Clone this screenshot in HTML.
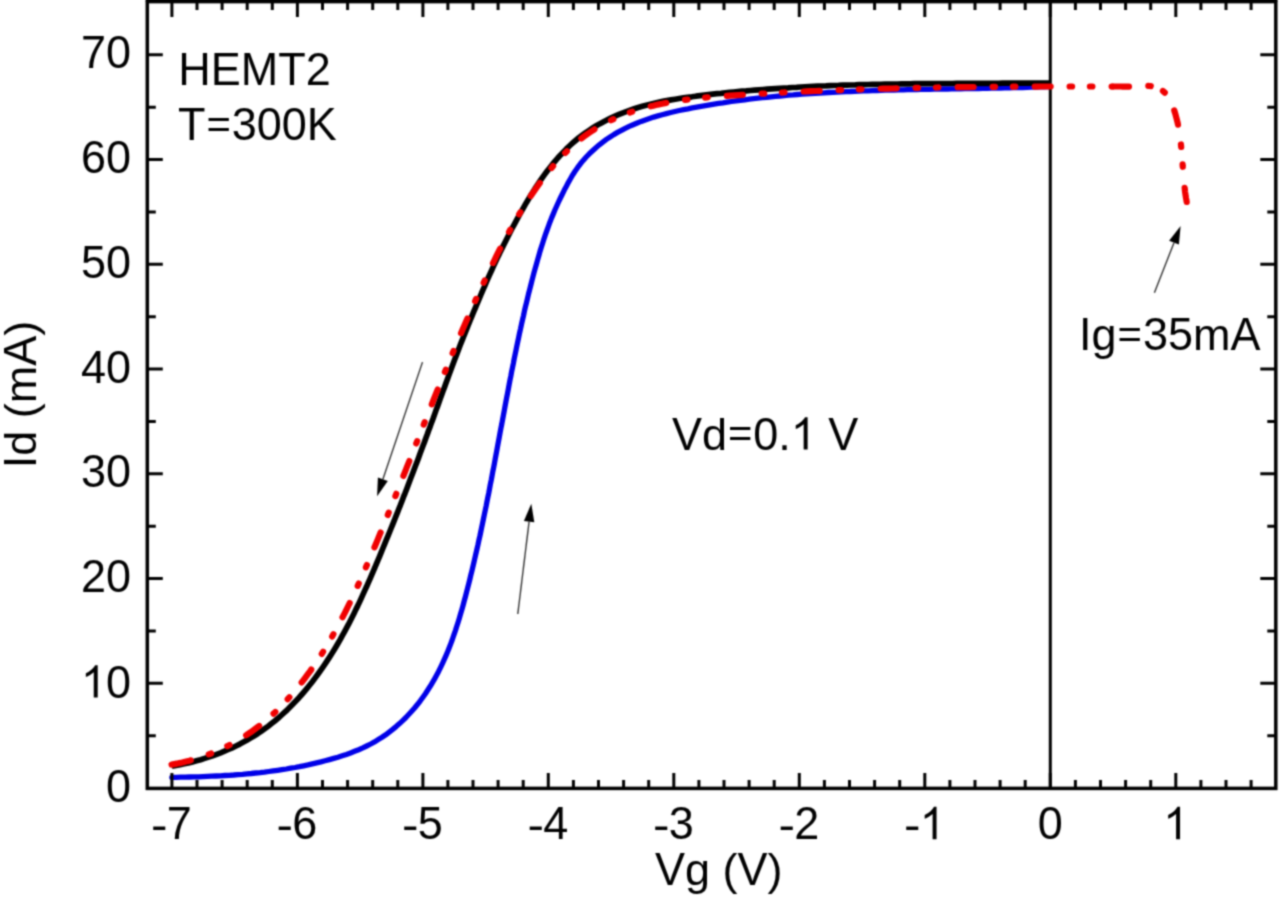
<!DOCTYPE html>
<html><head><meta charset="utf-8"><style>html,body{margin:0;padding:0;background:#fff;width:1280px;height:898px;overflow:hidden}svg{display:block;position:absolute;left:-20px;top:-20px}</style></head>
<body><svg width="1320" height="938" viewBox="-20 -20 1320 938">
<defs><filter id="bl" x="-20" y="-20" width="1320" height="938" filterUnits="userSpaceOnUse" color-interpolation-filters="sRGB"><feConvolveMatrix order="5" kernelMatrix="0.00023 0.00332 0.00809 0.00332 0.00023 0.00332 0.04785 0.11640 0.04785 0.00332 0.00809 0.11640 0.28313 0.11640 0.00809 0.00332 0.04785 0.11640 0.04785 0.00332 0.00023 0.00332 0.00809 0.00332 0.00023" divisor="1" edgeMode="duplicate" preserveAlpha="true"/></filter></defs>
<g filter="url(#bl)">
<rect x="-20" y="-20" width="1320" height="938" fill="#fff"/>
<line x1="1050.3" y1="1.6" x2="1050.3" y2="788.4" stroke="#000" stroke-width="3"/>
<g fill="none" stroke-linejoin="round">
<path d="M171.9,777.4 L176.3,777.3 L180.7,777.2 L185.1,777.1 L189.6,777.0 L194.0,776.9 L198.4,776.8 L202.8,776.6 L207.2,776.4 L211.7,776.2 L216.1,776.0 L220.5,775.8 L224.9,775.5 L229.3,775.3 L233.7,775.0 L238.1,774.6 L242.5,774.3 L246.9,773.9 L251.3,773.5 L255.7,773.0 L260.1,772.6 L264.5,772.1 L268.8,771.5 L273.2,770.9 L277.6,770.3 L281.9,769.7 L286.3,769.0 L290.6,768.2 L295.0,767.5 L299.3,766.7 L303.6,765.8 L308.0,764.9 L312.3,763.9 L316.6,762.9 L320.9,761.9 L325.1,760.8 L329.4,759.6 L333.7,758.4 L337.9,757.2 L342.2,755.8 L346.4,754.4 L350.5,752.9 L354.6,751.3 L358.7,749.7 L362.8,747.9 L366.7,746.0 L370.7,744.0 L374.5,741.9 L378.3,739.6 L382.0,737.3 L385.7,734.8 L389.2,732.1 L392.7,729.4 L396.1,726.6 L399.5,723.6 L402.7,720.6 L405.9,717.5 L408.9,714.3 L411.9,711.0 L414.8,707.7 L417.6,704.3 L420.3,700.8 L422.9,697.2 L425.4,693.7 L427.8,690.0 L430.2,686.3 L432.4,682.6 L434.6,678.8 L436.7,675.0 L438.7,671.2 L440.6,667.3 L442.5,663.3 L444.3,659.3 L446.1,655.3 L447.8,651.3 L449.4,647.2 L451.0,643.1 L452.5,639.0 L453.9,634.8 L455.4,630.6 L456.7,626.5 L458.1,622.2 L459.4,618.0 L460.6,613.8 L461.9,609.5 L463.1,605.2 L464.2,601.0 L465.4,596.7 L466.5,592.4 L467.6,588.1 L468.7,583.8 L469.8,579.5 L470.8,575.2 L471.9,570.9 L472.9,566.6 L473.9,562.3 L474.9,558.0 L475.9,553.7 L476.9,549.3 L477.9,545.0 L478.8,540.7 L479.8,536.4 L480.7,532.1 L481.6,527.8 L482.5,523.5 L483.4,519.1 L484.3,514.8 L485.2,510.5 L486.1,506.2 L486.9,501.9 L487.8,497.5 L488.7,493.2 L489.5,488.9 L490.3,484.5 L491.2,480.2 L492.0,475.9 L492.8,471.6 L493.7,467.2 L494.5,462.9 L495.3,458.6 L496.1,454.2 L496.9,449.9 L497.7,445.6 L498.5,441.2 L499.3,436.9 L500.1,432.6 L500.9,428.2 L501.8,423.9 L502.6,419.5 L503.4,415.2 L504.2,410.9 L505.0,406.5 L505.8,402.2 L506.6,397.9 L507.5,393.5 L508.3,389.2 L509.1,384.8 L509.9,380.5 L510.8,376.2 L511.6,371.8 L512.5,367.5 L513.4,363.2 L514.2,358.8 L515.1,354.5 L516.0,350.2 L516.9,345.8 L517.8,341.5 L518.7,337.2 L519.6,332.8 L520.6,328.5 L521.5,324.2 L522.5,319.9 L523.5,315.6 L524.4,311.2 L525.4,306.9 L526.5,302.6 L527.5,298.3 L528.5,294.0 L529.6,289.8 L530.7,285.5 L531.8,281.2 L532.9,276.9 L534.0,272.7 L535.2,268.4 L536.4,264.2 L537.6,259.9 L538.8,255.7 L540.0,251.4 L541.3,247.2 L542.7,243.0 L544.0,238.8 L545.4,234.7 L546.9,230.5 L548.4,226.4 L549.9,222.2 L551.5,218.1 L553.2,214.1 L554.9,210.0 L556.7,206.0 L558.5,202.0 L560.4,198.0 L562.4,194.0 L564.3,190.1 L566.4,186.2 L568.4,182.3 L570.6,178.5 L572.8,174.7 L575.2,171.0 L577.7,167.4 L580.4,163.8 L583.2,160.4 L586.2,157.0 L589.3,153.8 L592.6,150.7 L595.9,147.7 L599.3,144.8 L602.8,142.1 L606.4,139.4 L610.1,137.0 L613.8,134.6 L617.5,132.4 L621.4,130.3 L625.2,128.3 L629.2,126.4 L633.1,124.7 L637.2,123.0 L641.2,121.4 L645.3,119.9 L649.5,118.5 L653.7,117.1 L657.9,115.9 L662.1,114.7 L666.4,113.6 L670.7,112.5 L675.0,111.5 L679.3,110.5 L683.6,109.6 L688.0,108.8 L692.3,107.9 L696.7,107.1 L701.0,106.3 L705.4,105.6 L709.8,104.8 L714.1,104.1 L718.5,103.4 L722.9,102.8 L727.3,102.1 L731.6,101.5 L736.0,100.9 L740.4,100.3 L744.8,99.8 L749.2,99.2 L753.5,98.7 L757.9,98.2 L762.3,97.7 L766.7,97.3 L771.1,96.8 L775.5,96.4 L779.9,96.0 L784.3,95.6 L788.7,95.2 L793.1,94.9 L797.5,94.5 L801.9,94.2 L806.3,93.9 L810.7,93.6 L815.1,93.3 L819.5,93.0 L823.9,92.8 L828.3,92.5 L832.7,92.3 L837.1,92.1 L841.5,91.8 L845.9,91.6 L850.3,91.5 L854.7,91.3 L859.1,91.1 L863.5,90.9 L867.9,90.8 L872.4,90.6 L876.8,90.5 L881.2,90.4 L885.6,90.2 L890.0,90.1 L894.4,90.0 L898.8,89.9 L903.3,89.8 L907.7,89.7 L912.1,89.6 L916.5,89.5 L920.9,89.4 L925.3,89.3 L929.8,89.3 L934.2,89.2 L938.6,89.1 L943.0,89.0 L947.4,89.0 L951.8,88.9 L956.3,88.8 L960.7,88.8 L965.1,88.7 L969.5,88.6 L973.9,88.5 L978.4,88.5 L982.8,88.4 L987.2,88.3 L991.6,88.2 L996.0,88.1 L1000.4,88.0 L1004.9,87.9 L1009.3,87.8 L1013.7,87.7 L1018.1,87.6 L1022.5,87.5 L1026.9,87.3 L1031.4,87.2 L1035.8,87.1 L1040.2,86.9 L1044.6,86.8 L1049.0,86.6" stroke="#0000e8" stroke-width="5.3" stroke-linecap="round"/>
<path d="M171.9,766.1 L176.0,765.4 L180.1,764.7 L184.2,763.8 L188.3,762.9 L192.4,761.9 L196.5,760.8 L200.6,759.7 L204.6,758.4 L208.6,757.1 L212.6,755.8 L216.6,754.3 L220.6,752.8 L224.5,751.2 L228.3,749.5 L232.2,747.8 L236.0,746.0 L239.8,744.1 L243.5,742.1 L247.2,740.0 L250.8,737.9 L254.4,735.7 L257.9,733.5 L261.4,731.1 L264.8,728.7 L268.2,726.2 L271.5,723.6 L274.8,721.0 L278.0,718.3 L281.1,715.5 L284.2,712.7 L287.3,709.8 L290.3,706.8 L293.2,703.8 L296.1,700.8 L299.0,697.7 L301.8,694.5 L304.5,691.3 L307.2,688.1 L309.9,684.8 L312.5,681.5 L315.0,678.1 L317.5,674.7 L320.0,671.3 L322.4,667.9 L324.8,664.4 L327.1,660.9 L329.4,657.4 L331.7,653.8 L333.9,650.2 L336.0,646.7 L338.2,643.0 L340.3,639.4 L342.3,635.7 L344.3,632.1 L346.3,628.4 L348.3,624.7 L350.2,620.9 L352.1,617.2 L354.0,613.4 L355.8,609.6 L357.7,605.9 L359.5,602.1 L361.2,598.3 L363.0,594.4 L364.7,590.6 L366.5,586.8 L368.2,582.9 L369.9,579.1 L371.6,575.2 L373.2,571.3 L374.9,567.5 L376.5,563.6 L378.2,559.7 L379.8,555.8 L381.4,551.9 L383.0,548.0 L384.6,544.1 L386.2,540.2 L387.8,536.4 L389.4,532.5 L391.0,528.5 L392.6,524.6 L394.2,520.7 L395.7,516.8 L397.3,512.9 L398.8,509.0 L400.4,505.1 L401.9,501.2 L403.4,497.2 L405.0,493.3 L406.5,489.4 L408.0,485.5 L409.5,481.5 L411.0,477.6 L412.5,473.7 L414.0,469.7 L415.5,465.8 L417.0,461.9 L418.5,457.9 L419.9,454.0 L421.4,450.1 L422.9,446.1 L424.4,442.2 L425.8,438.2 L427.3,434.3 L428.7,430.3 L430.2,426.4 L431.6,422.4 L433.1,418.5 L434.5,414.6 L435.9,410.6 L437.4,406.7 L438.8,402.7 L440.2,398.8 L441.7,394.8 L443.1,390.9 L444.6,386.9 L446.0,383.0 L447.5,379.0 L448.9,375.1 L450.4,371.1 L451.8,367.2 L453.3,363.3 L454.8,359.3 L456.3,355.4 L457.8,351.5 L459.3,347.6 L460.8,343.6 L462.4,339.7 L463.9,335.8 L465.5,331.9 L467.1,328.0 L468.6,324.1 L470.2,320.2 L471.8,316.3 L473.4,312.4 L475.1,308.5 L476.7,304.7 L478.3,300.8 L480.0,296.9 L481.6,293.0 L483.3,289.2 L485.0,285.3 L486.6,281.5 L488.3,277.6 L490.0,273.8 L491.8,270.0 L493.5,266.2 L495.3,262.4 L497.0,258.6 L498.8,254.9 L500.6,251.1 L502.5,247.4 L504.3,243.7 L506.2,239.9 L508.1,236.2 L510.0,232.5 L511.9,228.8 L513.9,225.1 L515.9,221.4 L517.9,217.7 L519.9,214.0 L522.0,210.3 L524.1,206.6 L526.2,202.9 L528.4,199.3 L530.6,195.6 L532.9,192.0 L535.1,188.4 L537.5,184.9 L539.8,181.4 L542.2,177.9 L544.7,174.4 L547.2,171.0 L549.8,167.7 L552.4,164.4 L555.1,161.2 L557.8,158.0 L560.6,154.9 L563.5,151.9 L566.4,148.9 L569.4,146.0 L572.5,143.2 L575.6,140.5 L578.8,137.8 L582.1,135.3 L585.5,132.8 L588.9,130.5 L592.4,128.2 L595.9,126.0 L599.5,123.9 L603.2,121.9 L606.9,120.0 L610.7,118.1 L614.5,116.4 L618.4,114.7 L622.3,113.1 L626.2,111.6 L630.2,110.2 L634.2,108.8 L638.2,107.5 L642.3,106.3 L646.3,105.2 L650.4,104.2 L654.5,103.2 L658.6,102.3 L662.7,101.4 L666.9,100.6 L671.0,99.9 L675.2,99.2 L679.3,98.5 L683.5,97.9 L687.6,97.3 L691.8,96.8 L696.0,96.2 L700.2,95.7 L704.4,95.2 L708.5,94.7 L712.7,94.2 L716.9,93.7 L721.1,93.3 L725.3,92.8 L729.5,92.4 L733.6,92.0 L737.8,91.6 L742.0,91.2 L746.2,90.9 L750.4,90.5 L754.6,90.1 L758.8,89.8 L763.0,89.5 L767.2,89.2 L771.4,88.9 L775.5,88.6 L779.7,88.3 L783.9,88.0 L788.1,87.8 L792.3,87.5 L796.5,87.3 L800.7,87.0 L804.9,86.8 L809.1,86.6 L813.3,86.4 L817.5,86.2 L821.7,86.0 L825.9,85.9 L830.1,85.7 L834.3,85.5 L838.5,85.4 L842.7,85.2 L847.0,85.1 L851.2,85.0 L855.4,84.9 L859.6,84.7 L863.8,84.6 L868.0,84.5 L872.2,84.4 L876.4,84.3 L880.6,84.3 L884.8,84.2 L889.0,84.1 L893.2,84.0 L897.4,84.0 L901.7,83.9 L905.9,83.8 L910.1,83.8 L914.3,83.7 L918.5,83.7 L922.7,83.7 L926.9,83.6 L931.1,83.6 L935.3,83.6 L939.5,83.5 L943.8,83.5 L948.0,83.5 L952.2,83.5 L956.4,83.4 L960.6,83.4 L964.8,83.4 L969.0,83.4 L973.2,83.4 L977.4,83.3 L981.7,83.3 L985.9,83.3 L990.1,83.3 L994.3,83.3 L998.5,83.3 L1002.7,83.2 L1006.9,83.2 L1011.1,83.2 L1015.3,83.2 L1019.5,83.2 L1023.8,83.1 L1028.0,83.1 L1032.2,83.1 L1036.4,83.1 L1040.6,83.0 L1044.8,83.0 L1049.0,83.0" stroke="#000" stroke-width="5.7" stroke-linecap="butt"/>
<path d="M171.6,764.6 L176.1,763.8 L180.6,762.9 L185.1,761.8 L189.5,760.7 L193.9,759.4 L198.2,758.1 L202.5,756.6 L206.8,755.1 L211.1,753.5 L215.3,751.8 L219.4,750.0 L223.5,748.0 L227.6,746.0 L231.6,744.0 L235.5,741.8 L239.4,739.5 L243.3,737.1 L247.0,734.7 L250.8,732.2 L254.4,729.5 L258.0,726.8 L261.5,724.1 L265.0,721.2 L268.4,718.3 L271.8,715.2 L275.1,712.2 L278.3,709.0 L281.5,705.8 L284.6,702.6 L287.6,699.2 L290.6,695.9 L293.6,692.4 L296.5,689.0 L299.3,685.5 L302.1,681.9 L304.8,678.3 L307.5,674.7 L310.2,671.1 L312.8,667.4 L315.3,663.7 L317.8,659.9 L320.3,656.2 L322.7,652.4 L325.0,648.5 L327.4,644.7 L329.6,640.8 L331.9,636.9 L334.1,633.0 L336.3,629.1 L338.4,625.1 L340.5,621.1 L342.6,617.1 L344.7,613.1 L346.7,609.1 L348.7,605.0 L350.7,600.9 L352.6,596.9 L354.5,592.8 L356.4,588.7 L358.3,584.6 L360.2,580.4 L362.0,576.3 L363.8,572.1 L365.6,568.0 L367.4,563.8 L369.2,559.7 L371.0,555.5 L372.8,551.3 L374.5,547.2 L376.3,543.0 L378.0,538.8 L379.7,534.6 L381.5,530.4 L383.2,526.3 L384.9,522.1 L386.6,517.9 L388.3,513.7 L390.0,509.5 L391.7,505.3 L393.4,501.1 L395.1,496.9 L396.7,492.7 L398.4,488.5 L400.1,484.3 L401.8,480.1 L403.4,475.9 L405.1,471.7 L406.7,467.5 L408.4,463.3 L410.1,459.1 L411.7,454.9 L413.4,450.7 L415.0,446.5 L416.7,442.3 L418.3,438.2 L420.0,434.0 L421.7,429.8 L423.3,425.6 L425.0,421.4 L426.6,417.2 L428.3,413.0 L430.0,408.8 L431.7,404.6 L433.3,400.4 L435.0,396.2 L436.7,392.0 L438.4,387.9 L440.1,383.7 L441.8,379.5 L443.5,375.3 L445.2,371.2 L446.9,367.0 L448.6,362.8 L450.3,358.7 L452.1,354.5 L453.8,350.3 L455.5,346.2 L457.3,342.0 L459.1,337.9 L460.8,333.7 L462.6,329.6 L464.4,325.4 L466.2,321.3 L468.0,317.2 L469.8,313.0 L471.7,308.9 L473.5,304.8 L475.3,300.7 L477.2,296.6 L479.1,292.5 L481.0,288.4 L482.9,284.3 L484.8,280.2 L486.7,276.1 L488.6,272.0 L490.6,267.9 L492.6,263.8 L494.6,259.8 L496.6,255.7 L498.6,251.7 L500.7,247.7 L502.8,243.7 L504.9,239.7 L507.0,235.7 L509.2,231.7 L511.4,227.7 L513.6,223.8 L515.9,219.9 L518.2,216.0 L520.5,212.1 L522.9,208.2 L525.3,204.4 L527.7,200.6 L530.2,196.8 L532.8,193.0 L535.4,189.2 L538.0,185.5 L540.7,181.8 L543.4,178.2 L546.2,174.6 L549.0,171.0 L551.9,167.5 L554.8,164.0 L557.8,160.6 L560.9,157.3 L564.0,154.0 L567.2,150.9 L570.5,147.8 L573.8,144.7 L577.2,141.8 L580.6,139.0 L584.2,136.3 L587.8,133.7 L591.5,131.2 L595.2,128.8 L599.0,126.5 L602.9,124.4 L606.9,122.3 L610.9,120.3 L614.9,118.4 L619.0,116.7 L623.2,115.0 L627.4,113.4 L631.6,111.9 L635.9,110.5 L640.2,109.2 L644.6,107.9 L648.9,106.8 L653.3,105.7 L657.7,104.6 L662.1,103.7 L666.6,102.8 L671.0,102.0 L675.5,101.3 L679.9,100.6 L684.4,99.9 L688.9,99.4 L693.4,98.8 L697.9,98.3 L702.4,97.9 L706.9,97.4 L711.4,97.0 L716.0,96.7 L720.5,96.3 L725.0,96.0 L729.5,95.7 L734.1,95.4 L738.6,95.1 L743.1,94.8 L747.6,94.5 L752.2,94.2 L756.7,94.0 L761.2,93.7 L765.7,93.5 L770.3,93.2 L774.8,93.0 L779.3,92.7 L783.8,92.5 L788.3,92.3 L792.9,92.0 L797.4,91.8 L801.9,91.6 L806.4,91.4 L810.9,91.2 L815.4,91.0 L820.0,90.8 L824.5,90.6 L829.0,90.5 L833.5,90.3 L838.0,90.1 L842.5,90.0 L847.0,89.8 L851.6,89.6 L856.1,89.5 L860.6,89.3 L865.1,89.2 L869.6,89.1 L874.1,88.9 L878.6,88.8 L883.1,88.7 L887.6,88.6 L892.1,88.5 L896.6,88.3 L901.2,88.2 L905.7,88.1 L910.2,88.0 L914.7,87.9 L919.2,87.8 L923.7,87.8 L928.2,87.7 L932.7,87.6 L937.2,87.5 L941.7,87.4 L946.2,87.4 L950.7,87.3 L955.3,87.2 L959.8,87.2 L964.3,87.1 L968.8,87.1 L973.3,87.0 L977.8,87.0 L982.3,86.9 L986.8,86.9 L991.3,86.8 L995.8,86.8 L1000.4,86.8 L1004.9,86.7 L1009.4,86.7 L1013.9,86.7 L1018.4,86.6 L1022.9,86.6 L1027.4,86.6 L1031.9,86.6 L1036.5,86.6 L1041.0,86.5 L1045.5,86.5 L1050.0,86.5 L1054.5,86.5 L1059.0,86.5 L1063.6,86.5 L1068.1,86.5 L1072.6,86.5 L1077.1,86.5 L1081.7,86.5 L1086.2,86.5 L1090.7,86.5 L1095.2,86.5 L1099.8,86.5 L1104.3,86.5 L1108.8,86.5 L1112.4,86.5" stroke="#f00000" stroke-width="6.2" stroke-dasharray="16 18.95 2.5 17.8 2.5 19.25" stroke-dashoffset="-3.66" stroke-linecap="round"/>
<path d="M171.6,764.6 L175.5,763.9" stroke="#f00000" stroke-width="6.2" stroke-linecap="round"/>
<path d="M1113.0,86.5 L1113.3,86.5 L1117.9,86.5 L1121.0,86.5 L1122.8,86.7 L1124.6,86.7 L1126.5,86.7 L1128.5,86.6 L1130.5,86.5 L1132.6,86.4 L1134.7,86.2 L1136.9,86.1 L1139.0,85.9 L1141.2,85.8 L1143.3,85.8 L1145.5,85.8 L1147.6,85.9 L1149.7,86.0 L1151.7,86.3 L1153.7,86.7 L1155.6,87.2 L1157.4,87.9 L1159.2,88.6 L1160.8,89.5 L1162.4,90.6 L1163.8,91.7 L1165.2,93.0 L1166.4,94.4 L1167.6,96.0 L1168.6,97.6 L1169.6,99.3 L1170.5,101.1 L1171.4,102.9 L1172.2,104.8 L1172.9,106.7 L1173.6,108.6 L1174.3,110.5 L1174.9,112.5 L1175.5,114.4 L1176.0,116.4 L1176.5,118.3 L1177.0,120.3 L1177.5,122.2 L1177.9,124.2 L1178.3,126.2 L1178.7,128.1 L1179.0,130.1 L1179.4,132.1 L1179.7,134.1 L1180.0,136.1 L1180.2,138.1 L1180.5,140.1 L1180.7,142.1 L1180.9,144.1 L1181.1,146.1 L1181.3,148.1 L1181.5,150.1 L1181.7,152.1 L1181.9,154.1 L1182.0,156.1 L1182.2,158.1 L1182.3,160.1 L1182.5,162.1 L1182.6,164.1 L1182.7,166.1 L1182.9,168.1 L1183.0,170.1 L1183.2,172.2 L1183.3,174.2 L1183.5,176.2 L1183.7,178.2 L1183.8,180.2 L1184.0,182.2 L1184.2,184.1 L1184.4,186.1 L1184.7,188.1 L1184.9,190.1 L1185.1,192.1 L1185.4,194.1 L1185.7,196.0 L1186.0,198.0 L1186.4,200.0 L1186.7,201.9" stroke="#f00000" stroke-width="6.2" stroke-dasharray="16 19.35 2.5 13.2 2.5 20.3 14.75 20.05 2.5 17.4 2.5 21.1 100 1000" stroke-linecap="round"/>
</g>
<g stroke="#000" fill="none">
<path d="M171.9,788.4V772.9M171.9,1.6V17.1M197.0,788.4V779.9M197.0,1.6V10.1M222.1,788.4V779.9M222.1,1.6V10.1M247.2,788.4V779.9M247.2,1.6V10.1M272.3,788.4V779.9M272.3,1.6V10.1M297.4,788.4V772.9M297.4,1.6V17.1M322.5,788.4V779.9M322.5,1.6V10.1M347.6,788.4V779.9M347.6,1.6V10.1M372.7,788.4V779.9M372.7,1.6V10.1M397.8,788.4V779.9M397.8,1.6V10.1M422.9,788.4V772.9M422.9,1.6V17.1M447.9,788.4V779.9M447.9,1.6V10.1M473.0,788.4V779.9M473.0,1.6V10.1M498.1,788.4V779.9M498.1,1.6V10.1M523.2,788.4V779.9M523.2,1.6V10.1M548.3,788.4V772.9M548.3,1.6V17.1M573.4,788.4V779.9M573.4,1.6V10.1M598.5,788.4V779.9M598.5,1.6V10.1M623.6,788.4V779.9M623.6,1.6V10.1M648.7,788.4V779.9M648.7,1.6V10.1M673.8,788.4V772.9M673.8,1.6V17.1M698.9,788.4V779.9M698.9,1.6V10.1M724.0,788.4V779.9M724.0,1.6V10.1M749.1,788.4V779.9M749.1,1.6V10.1M774.2,788.4V779.9M774.2,1.6V10.1M799.3,788.4V772.9M799.3,1.6V17.1M824.4,788.4V779.9M824.4,1.6V10.1M849.5,788.4V779.9M849.5,1.6V10.1M874.6,788.4V779.9M874.6,1.6V10.1M899.7,788.4V779.9M899.7,1.6V10.1M924.8,788.4V772.9M924.8,1.6V17.1M949.9,788.4V779.9M949.9,1.6V10.1M975.0,788.4V779.9M975.0,1.6V10.1M1000.1,788.4V779.9M1000.1,1.6V10.1M1025.2,788.4V779.9M1025.2,1.6V10.1M1050.3,788.4V772.9M1050.3,1.6V17.1M1075.4,788.4V779.9M1075.4,1.6V10.1M1100.5,788.4V779.9M1100.5,1.6V10.1M1125.6,788.4V779.9M1125.6,1.6V10.1M1150.7,788.4V779.9M1150.7,1.6V10.1M1175.8,788.4V772.9M1175.8,1.6V17.1M1200.9,788.4V779.9M1200.9,1.6V10.1M1226.0,788.4V779.9M1226.0,1.6V10.1M1251.1,788.4V779.9M1251.1,1.6V10.1M147.3,735.7H155.8M1275.8,735.7H1267.3M147.3,683.3H162.8M1275.8,683.3H1260.3M147.3,631.0H155.8M1275.8,631.0H1267.3M147.3,578.6H162.8M1275.8,578.6H1260.3M147.3,526.2H155.8M1275.8,526.2H1267.3M147.3,473.8H162.8M1275.8,473.8H1260.3M147.3,421.4H155.8M1275.8,421.4H1267.3M147.3,369.1H162.8M1275.8,369.1H1260.3M147.3,316.7H155.8M1275.8,316.7H1267.3M147.3,264.3H162.8M1275.8,264.3H1260.3M147.3,211.9H155.8M1275.8,211.9H1267.3M147.3,159.5H162.8M1275.8,159.5H1260.3M147.3,107.2H155.8M1275.8,107.2H1267.3M147.3,54.8H162.8M1275.8,54.8H1260.3" stroke-width="3"/>
<rect x="147.3" y="1.6" width="1128.5" height="786.8" stroke-width="3.5"/>
<rect x="145.8" y="-6" width="1131.5" height="8" fill="#000" stroke="none"/>
</g>
<line x1="422.5" y1="362.1" x2="382.9" y2="479.2" stroke="#333" stroke-width="1.4"/><polygon points="377.1,496.3 377.9,477.6 387.8,480.9" fill="#000"/>
<line x1="517.8" y1="614" x2="529.1" y2="521.6" stroke="#333" stroke-width="1.4"/><polygon points="531.3,503.7 534.3,522.2 523.9,520.9" fill="#000"/>
<line x1="1154.4" y1="292.7" x2="1174.0" y2="242.7" stroke="#333" stroke-width="1.4"/><polygon points="1180.6,225.9 1178.9,244.6 1169.1,240.7" fill="#000"/>
<g font-family="'Liberation Sans', sans-serif" font-size="45" fill="#000" style="font-kerning:none">
<g transform="translate(171.87,839.20)"><text x="-20.01" y="0" transform="translate(-12.51,0.60) scale(1.1,1.0) translate(12.51,-0.00)">-</text><text x="-5.02" y="0" transform="translate(7.49,0.00) scale(1.0,1.04) translate(-7.49,-0.00)">7</text></g><g transform="translate(297.36,839.20)"><text x="-20.01" y="0" transform="translate(-12.51,0.60) scale(1.1,1.0) translate(12.51,-0.00)">-</text><text x="-5.02" y="0" transform="translate(7.49,0.00) scale(1.0,1.04) translate(-7.49,-0.00)">6</text></g><g transform="translate(422.85,839.20)"><text x="-20.01" y="0" transform="translate(-12.51,0.60) scale(1.1,1.0) translate(12.51,-0.00)">-</text><text x="-5.02" y="0" transform="translate(7.49,0.00) scale(1.0,1.04) translate(-7.49,-0.00)">5</text></g><g transform="translate(548.34,839.20)"><text x="-20.01" y="0" transform="translate(-12.51,0.60) scale(1.1,1.0) translate(12.51,-0.00)">-</text><text x="-5.02" y="0" transform="translate(7.49,0.00) scale(1.0,1.04) translate(-7.49,-0.00)">4</text></g><g transform="translate(673.83,839.20)"><text x="-20.01" y="0" transform="translate(-12.51,0.60) scale(1.1,1.0) translate(12.51,-0.00)">-</text><text x="-5.02" y="0" transform="translate(7.49,0.00) scale(1.0,1.04) translate(-7.49,-0.00)">3</text></g><g transform="translate(799.32,839.20)"><text x="-20.01" y="0" transform="translate(-12.51,0.60) scale(1.1,1.0) translate(12.51,-0.00)">-</text><text x="-5.02" y="0" transform="translate(7.49,0.00) scale(1.0,1.04) translate(-7.49,-0.00)">2</text></g><g transform="translate(924.81,839.20)"><text x="-20.01" y="0" transform="translate(-12.51,0.60) scale(1.1,1.0) translate(12.51,-0.00)">-</text><path d="M11.74,0.00L7.79,0.00L7.79,-25.20Q6.36,-23.84 4.04,-22.48Q1.72,-21.12 -0.12,-20.43L-0.12,-24.26Q3.20,-25.82 5.68,-28.04Q8.16,-30.26 9.20,-32.34L11.74,-32.34Z"/></g><g transform="translate(1050.30,839.20)"><text x="-12.51" y="0" transform="translate(0.00,0.00) scale(1.0,1.04) translate(-0.00,-0.00)">0</text></g><g transform="translate(1175.79,839.20)"><path d="M4.25,0.00L0.30,0.00L0.30,-25.20Q-1.13,-23.84 -3.45,-22.48Q-5.77,-21.12 -7.61,-20.43L-7.61,-24.26Q-4.30,-25.82 -1.81,-28.04Q0.67,-30.26 1.70,-32.34L4.25,-32.34Z"/></g>
<g transform="translate(131.00,801.70)"><text x="-25.03" y="0" transform="translate(-12.51,0.00) scale(1.0,1.04) translate(12.51,-0.00)">0</text></g><g transform="translate(131.00,697.54)"><text x="-25.03" y="0" transform="translate(-12.51,0.00) scale(1.0,1.04) translate(12.51,-0.00)">0</text><path d="M-33.29,0.00L-37.24,0.00L-37.24,-25.20Q-38.67,-23.84 -40.99,-22.48Q-43.31,-21.12 -45.15,-20.43L-45.15,-24.26Q-41.84,-25.82 -39.35,-28.04Q-36.87,-30.26 -35.84,-32.34L-33.29,-32.34Z"/></g><g transform="translate(131.00,592.18)"><text x="-50.05" y="0" transform="translate(-37.54,0.00) scale(1.0,1.04) translate(37.54,-0.00)">2</text><text x="-25.03" y="0" transform="translate(-12.51,0.00) scale(1.0,1.04) translate(12.51,-0.00)">0</text></g><g transform="translate(131.00,487.42)"><text x="-50.05" y="0" transform="translate(-37.54,0.00) scale(1.0,1.04) translate(37.54,-0.00)">3</text><text x="-25.03" y="0" transform="translate(-12.51,0.00) scale(1.0,1.04) translate(12.51,-0.00)">0</text></g><g transform="translate(131.00,382.66)"><text x="-50.05" y="0" transform="translate(-37.54,0.00) scale(1.0,1.04) translate(37.54,-0.00)">4</text><text x="-25.03" y="0" transform="translate(-12.51,0.00) scale(1.0,1.04) translate(12.51,-0.00)">0</text></g><g transform="translate(131.00,277.90)"><text x="-50.05" y="0" transform="translate(-37.54,0.00) scale(1.0,1.04) translate(37.54,-0.00)">5</text><text x="-25.03" y="0" transform="translate(-12.51,0.00) scale(1.0,1.04) translate(12.51,-0.00)">0</text></g><g transform="translate(131.00,173.14)"><text x="-50.05" y="0" transform="translate(-37.54,0.00) scale(1.0,1.04) translate(37.54,-0.00)">6</text><text x="-25.03" y="0" transform="translate(-12.51,0.00) scale(1.0,1.04) translate(12.51,-0.00)">0</text></g><g transform="translate(131.00,68.38)"><text x="-50.05" y="0" transform="translate(-37.54,0.00) scale(1.0,1.04) translate(37.54,-0.00)">7</text><text x="-25.03" y="0" transform="translate(-12.51,0.00) scale(1.0,1.04) translate(12.51,-0.00)">0</text></g>
<g transform="translate(178.20,85.40)"><text x="0.00" y="0" transform="translate(16.25,0.00) scale(1.0,1.04) translate(-16.25,-0.00)">H</text><text x="32.50" y="0" transform="translate(47.50,0.00) scale(1.0,1.04) translate(-47.50,-0.00)">E</text><text x="62.51" y="0" transform="translate(81.25,0.00) scale(1.0,1.04) translate(-81.25,-0.00)">M</text><text x="100.00" y="0" transform="translate(113.74,0.00) scale(1.0,1.04) translate(-113.74,-0.00)">T</text><text x="127.49" y="0" transform="translate(140.00,0.00) scale(1.0,1.04) translate(-140.00,-0.00)">2</text></g>
<g transform="translate(178.00,140.40)"><text x="0.00" y="0" transform="translate(13.74,0.00) scale(1.0,1.04) translate(-13.74,-0.00)">T</text><text x="27.49" y="0" transform="translate(40.63,-15.61) scale(0.93,0.91) translate(-40.63,14.81)">=</text><text x="53.77" y="0" transform="translate(66.28,0.00) scale(1.0,1.04) translate(-66.28,-0.00)">3</text><text x="78.79" y="0" transform="translate(91.31,0.00) scale(1.0,1.04) translate(-91.31,-0.00)">0</text><text x="103.82" y="0" transform="translate(116.33,0.00) scale(1.0,1.04) translate(-116.33,-0.00)">0</text><text x="128.85" y="0" transform="translate(143.85,0.00) scale(1.0,1.04) translate(-143.85,-0.00)">K</text></g>
<g transform="translate(672.00,449.50)"><text x="0.00" y="0" transform="translate(15.01,0.00) scale(1.0,1.04) translate(-15.01,-0.00)">V</text><text x="30.01" y="0" transform="translate(42.53,0.00) scale(1.0,0.985) translate(-42.53,-0.00)">d</text><text x="55.04" y="0" transform="translate(68.18,-15.61) scale(0.93,0.91) translate(-68.18,14.81)">=</text><text x="81.32" y="0" transform="translate(93.83,0.00) scale(1.0,1.04) translate(-93.83,-0.00)">0</text><text x="106.35" y="0">.</text><text x="156.38" y="0" transform="translate(171.39,0.00) scale(1.0,1.04) translate(-171.39,-0.00)">V</text><path d="M135.62,0.00L131.66,0.00L131.66,-25.20Q130.23,-23.84 127.91,-22.48Q125.60,-21.12 123.75,-20.43L123.75,-24.26Q127.07,-25.82 129.55,-28.04Q132.03,-30.26 133.07,-32.34L135.62,-32.34Z"/></g>
<g transform="translate(1079.10,350.10)"><text x="0.00" y="0" transform="translate(6.25,0.00) scale(1.0,1.04) translate(-6.25,-0.00)">I</text><text x="12.50" y="0" transform="translate(25.02,0.00) scale(1.0,0.985) translate(-25.02,-0.00)">g</text><text x="37.53" y="0" transform="translate(50.67,-15.61) scale(0.93,0.91) translate(-50.67,14.81)">=</text><text x="63.81" y="0" transform="translate(76.32,0.00) scale(1.0,1.04) translate(-76.32,-0.00)">3</text><text x="88.84" y="0" transform="translate(101.35,0.00) scale(1.0,1.04) translate(-101.35,-0.00)">5</text><text x="113.86" y="0" transform="translate(132.60,0.00) scale(1.0,0.985) translate(-132.60,-0.00)">m</text><text x="151.35" y="0" transform="translate(166.35,0.00) scale(1.0,1.04) translate(-166.35,-0.00)">A</text></g>
<g transform="translate(655.00,884.50)"><text x="0.00" y="0" transform="translate(15.01,0.00) scale(1.0,1.04) translate(-15.01,-0.00)">V</text><text x="30.01" y="0" transform="translate(42.53,0.00) scale(1.0,0.985) translate(-42.53,-0.00)">g</text><text x="67.54" y="0">(</text><text x="82.53" y="0" transform="translate(97.54,0.00) scale(1.0,1.04) translate(-97.54,-0.00)">V</text><text x="112.54" y="0">)</text></g>
<g transform="translate(35.80,394.50) rotate(-90)"><text x="-73.75" y="0" transform="translate(-67.50,0.00) scale(1.0,1.04) translate(67.50,-0.00)">I</text><text x="-61.25" y="0" transform="translate(-48.74,0.00) scale(1.0,0.985) translate(48.74,-0.00)">d</text><text x="-23.72" y="0">(</text><text x="-8.73" y="0" transform="translate(10.01,0.00) scale(1.0,0.985) translate(-10.01,-0.00)">m</text><text x="28.75" y="0" transform="translate(43.76,0.00) scale(1.0,1.04) translate(-43.76,-0.00)">A</text><text x="58.77" y="0">)</text></g>
</g>
</g>
</svg></body></html>
